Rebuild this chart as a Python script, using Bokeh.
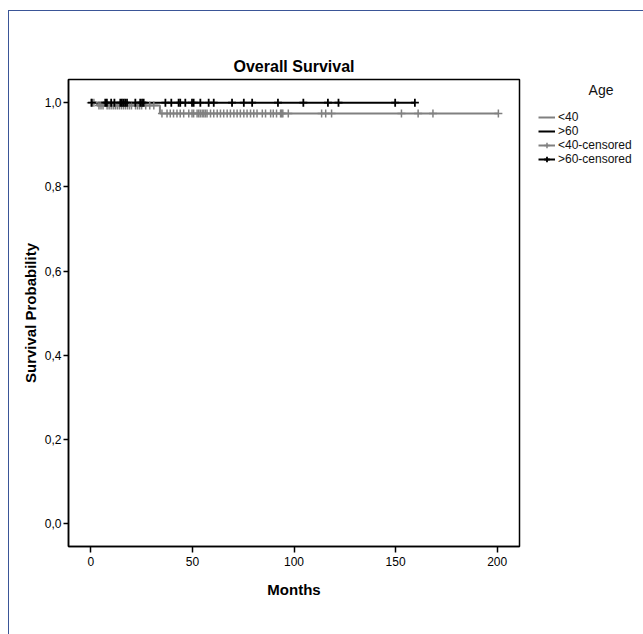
from bokeh.plotting import figure
from bokeh.models import Range1d, FixedTicker, CustomJSTickFormatter, Legend, LegendItem, InlineStyleSheet
from bokeh.embed import file_html
from bokeh.resources import INLINE

# ---- data ----
# <40 group survival curve (step points)
lt40_time = [0.0, 3.0, 34.0, 200.6]
lt40_surv = [1.0, 0.993, 0.974, 0.974]
# >60 group survival curve
gt60_time = [0.0, 159.5]
gt60_surv = [1.0, 1.0]

# censored observations, <40
lt40_cens_time = [0.0, 1.5,
                  4, 5, 6, 8, 9, 10, 11, 12, 13, 14, 15, 16, 17, 18, 19, 20, 22, 23, 24, 25, 27, 29, 31,
                  35.0, 37.5, 39.1, 40.7, 42.4, 44.0, 45.7, 48.2, 49.8, 50.6, 52.3, 53.1, 53.9, 54.8,
                  55.6, 56.4, 57.2, 58.9, 60.5, 62.2, 63.8, 65.4, 67.1, 68.7, 70.4, 72.0, 73.6, 75.3,
                  76.9, 78.6, 80.2, 81.8, 84.4, 86.0, 88.5, 89.8, 91.4, 93.4, 93.9, 94.5, 97.2,
                  113.6, 115.6, 118.5, 152.9, 161.1, 168.4, 200.6]
lt40_cens_surv = [1.0, 1.0,
                  0.993, 0.993, 0.993, 0.993, 0.993, 0.993, 0.993, 0.993, 0.993, 0.993, 0.993, 0.993,
                  0.993, 0.993, 0.993, 0.993, 0.993, 0.993, 0.993, 0.993, 0.993, 0.993, 0.993,
                  0.974, 0.974, 0.974, 0.974, 0.974, 0.974, 0.974, 0.974, 0.974, 0.974, 0.974, 0.974,
                  0.974, 0.974, 0.974, 0.974, 0.974, 0.974, 0.974, 0.974, 0.974, 0.974, 0.974, 0.974,
                  0.974, 0.974, 0.974, 0.974, 0.974, 0.974, 0.974, 0.974, 0.974, 0.974, 0.974, 0.974,
                  0.974, 0.974, 0.974, 0.974, 0.974, 0.974, 0.974, 0.974, 0.974, 0.974, 0.974, 0.974,
                  0.974]
# censored observations, >60
gt60_cens_time = [0.5, 7.1, 7.9, 10.0, 11.6, 14.5, 15.3, 16.1, 16.9, 17.8, 21.9, 24.3, 25.2, 26.0,
                  36.7, 39.6, 43.2, 44.0, 46.5, 49.8, 50.6, 53.9, 58.0, 60.5, 69.5, 75.3, 79.4,
                  92.1, 104.6, 116.7, 121.9, 149.8, 159.5]
gt60_cens_surv = [1.0] * len(gt60_cens_time)

y_ticks = [0.0, 0.2, 0.4, 0.6, 0.8, 1.0]
x_ticks = [0, 50, 100, 150, 200]

GRAY = "#808080"
FONT = "Liberation Sans"

frame_css = InlineStyleSheet(css="""
:host::after {
  content: "";
  position: absolute;
  left: 8px; top: 10px; right: 0; bottom: 0;
  border-left: 1px solid #3a5597;
  border-top: 1px solid #3a5597;
  pointer-events: none;
}
""")

p = figure(frame_width=451, frame_height=467, output_backend="svg", toolbar_location=None,
           x_range=Range1d(-11, 211), y_range=Range1d(-0.054, 1.055),
           min_border_left=68, min_border_right=124, min_border_top=79, min_border_bottom=88,
           stylesheets=[frame_css])

p.background_fill_color = "white"
p.border_fill_color = "white"
p.outline_line_color = "black"
p.outline_line_width = 1.5
p.xgrid.visible = False
p.ygrid.visible = False

p.title.text = "Overall Survival"
p.title.align = "center"
p.title.text_font = FONT
p.title.text_font_size = "16px"
p.title.text_font_style = "bold"
p.title.text_color = "black"
p.title.standoff = 9

for ax in (p.xaxis[0], p.yaxis[0]):
    ax.axis_line_color = "black"
    ax.axis_line_width = 1.5
    ax.major_tick_line_color = "black"
    ax.major_tick_line_width = 1.5
    ax.major_tick_in = 0
    ax.minor_tick_line_color = None
    ax.major_label_text_font = FONT
    ax.major_label_text_font_size = "12px"
    ax.major_label_text_color = "black"
    ax.axis_label_text_font = FONT
    ax.axis_label_text_font_size = "15px"
    ax.axis_label_text_font_style = "bold"
    ax.axis_label_text_color = "black"

p.xaxis.ticker = FixedTicker(ticks=x_ticks)
p.xaxis.major_tick_out = 6
p.xaxis.major_label_standoff = 4
p.xaxis.axis_label = "Months"
p.xaxis.axis_label_standoff = 12

p.yaxis.ticker = FixedTicker(ticks=y_ticks)
p.yaxis.formatter = CustomJSTickFormatter(code="return tick.toFixed(1).replace('.', ',');")
p.yaxis.major_tick_out = 5
p.yaxis.major_label_standoff = 2
p.yaxis.axis_label = "Survival Probability"
p.yaxis.axis_label_standoff = 3

r_lt40 = p.step(lt40_time, lt40_surv, mode="after", line_color=GRAY, line_width=2)
r_gt60 = p.step(gt60_time, gt60_surv, mode="after", line_color="black", line_width=2)
r_lt40c = p.scatter(lt40_cens_time, lt40_cens_surv, marker="cross", size=8,
                    line_color=GRAY, line_width=1.5)
r_gt60c = p.scatter(gt60_cens_time, gt60_cens_surv, marker="cross", size=8,
                    line_color="black", line_width=1.8)

legend = Legend(items=[
    LegendItem(label="<40", renderers=[r_lt40]),
    LegendItem(label=">60", renderers=[r_gt60]),
    LegendItem(label="<40-censored", renderers=[r_lt40, r_lt40c]),
    LegendItem(label=">60-censored", renderers=[r_gt60, r_gt60c]),
], location=(19, 380))
legend.title = "\u00a0" * 13 + "Age"
legend.title_text_font = FONT
legend.title_text_font_size = "14px"
legend.title_text_font_style = "normal"
legend.title_text_color = "#111111"
legend.title_standoff = 12
legend.padding = 0
legend.margin = 0
legend.spacing = 0
legend.border_line_color = None
legend.background_fill_alpha = 0
legend.glyph_width = 17
legend.glyph_height = 14
legend.label_height = 14
legend.label_standoff = 3
legend.label_text_font = FONT
legend.label_text_font_size = "12px"
legend.label_text_color = "#111111"
p.add_layout(legend, "right")

open("out.html", "w").write(file_html(p, INLINE))
